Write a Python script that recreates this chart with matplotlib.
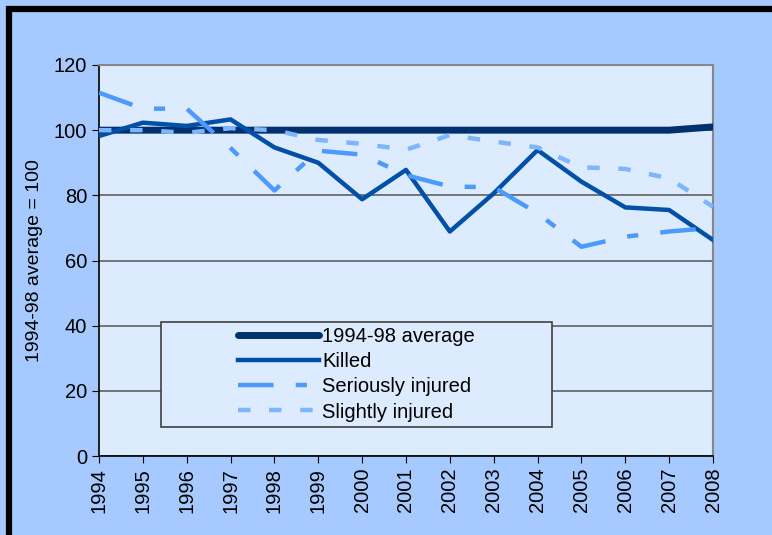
import matplotlib.pyplot as plt
from matplotlib.patches import Rectangle

plt.rcParams['font.family'] = ['Liberation Sans', 'DejaVu Sans']

years = list(range(1994, 2009))
average = [100, 100, 100, 100, 100, 100, 100, 100, 100, 100, 100, 100, 100, 100, 101]
killed = [98.2, 102.3, 101.3, 103.3, 94.7, 90.0, 78.8, 87.8, 68.9, 80.6, 93.9, 84.2, 76.3, 75.5, 66.3]
serious = [111.5, 106.6, 106.6, 94.5, 81.5, 93.7, 92.5, 86.2, 82.7, 82.5, 74.5, 64.2, 67.3, 68.9, 70.0]
slight = [100.0, 100.0, 99.2, 100.6, 100.0, 97.0, 95.8, 94.0, 98.5, 96.5, 94.7, 88.6, 88.1, 85.2, 76.5]

fig = plt.figure(figsize=(7.72, 5.35), dpi=100)
fig.patch.set_facecolor('#A6CAFF')
# thick black frame, only left and top edges are in view
fig.add_artist(Rectangle((9 / 772, -0.1), 1.2, (535 - 9) / 535 + 0.1,
                         transform=fig.transFigure, fill=False,
                         edgecolor='black', linewidth=4.5))

ax = fig.add_axes([99 / 772, 1 - 456 / 535, 614 / 772, 391 / 535])
ax.set_facecolor('#DDEBFF')

ax.plot(years, average, color='#00306E', lw=5, solid_capstyle='round', label='1994-98 average', zorder=3)
ax.plot(years, killed, color='#0050A8', lw=3.2, label='Killed', zorder=4)
ax.plot(years, serious, color='#4C9AFF', lw=3.2, dashes=(8, 5, 2.5, 5), label='Seriously injured', zorder=5)
ax.plot(years, slight, color='#7DB5FF', lw=3.2, dashes=(2.8, 4.2), label='Slightly injured', zorder=5)

ax.set_xlim(1994, 2008)
ax.set_ylim(0, 120)
ax.set_yticks(range(0, 121, 20))
ax.set_xticks(years)
ax.set_xticklabels([str(y) for y in years], rotation=90)
ax.tick_params(labelsize=14.5, direction='out', length=5, color='black')
ax.yaxis.grid(True, color='#606060', lw=1.2)
ax.set_axisbelow(True)
for s in ['top', 'right']:
    ax.spines[s].set_color('#888888')
    ax.spines[s].set_linewidth(1.5)
for s in ['left', 'bottom']:
    ax.spines[s].set_color('black')
    ax.spines[s].set_linewidth(1.2)
ax.set_ylabel('1994-98 average = 100', fontsize=14, labelpad=8)

# legend box
ax.add_patch(Rectangle((0.101, 0.074), 0.637, 0.269, transform=ax.transAxes,
                       facecolor='#DDEBFF', edgecolor='#404040', lw=1.2, zorder=6))
leg = ax.legend(loc='center', bbox_to_anchor=(0.101 + 0.637 / 2, 0.074 + 0.269 / 2),
                frameon=False, fontsize=14.5, handlelength=4.0, handletextpad=0.15,
                labelspacing=0.3)
leg.set_zorder(7)

fig.savefig('out.png', dpi=100, facecolor=fig.get_facecolor())
